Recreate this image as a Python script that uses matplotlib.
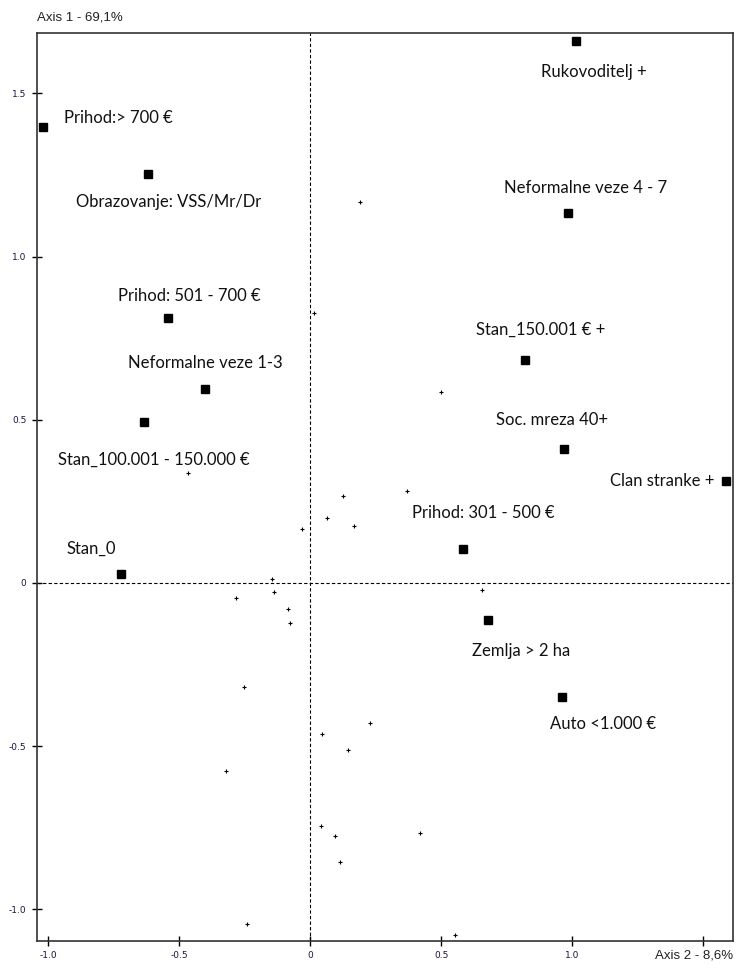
import numpy as np
import matplotlib.pyplot as plt

# labelled categories (axis 2 = x, axis 1 = y)
labels = ["Rukovoditelj +", "Prihod:> 700 €", "Obrazovanje: VSS/Mr/Dr",
          "Neformalne veze 4 - 7", "Prihod: 501 - 700 €", "Stan_150.001 € +",
          "Neformalne veze 1-3", "Soc. mreza 40+", "Stan_100.001 - 150.000 €",
          "Clan stranke +", "Prihod: 301 - 500 €", "Stan_0",
          "Zemlja > 2 ha", "Auto <1.000 €"]
lab_x = [1.015, -1.019, -0.618, 0.985, -0.542, 0.821, -0.401, 0.969, -0.634,
         1.588, 0.584, -0.721, 0.679, 0.962]
lab_y = [1.66, 1.397, 1.253, 1.133, 0.812, 0.683, 0.594, 0.41, 0.493,
         0.312, 0.104, 0.028, -0.113, -0.349]

# unlabelled categories
pt_x = [0.191, 0.015, 0.5, -0.466, 0.126, 0.37, 0.065, 0.168, -0.031, -0.145,
        -0.282, -0.137, -0.084, -0.076, 0.656, -0.252, 0.229, 0.047, 0.145,
        -0.32, 0.043, 0.095, 0.42, 0.115, -0.24, 0.553]
pt_y = [1.167, 0.827, 0.585, 0.337, 0.266, 0.282, 0.199, 0.175, 0.165, 0.012,
        -0.046, -0.028, -0.08, -0.123, -0.021, -0.318, -0.428, -0.463, -0.512,
        -0.575, -0.744, -0.775, -0.766, -0.855, -1.044, -1.078]

# label text offsets in pixels (dx, dy) relative to the square, left-aligned
offsets = [(-35, -31), (21, 9), (-72, -28), (-64, 25), (-50, 22), (-49, 30),
           (-77, 26), (-68, 29), (-86, -38), (-116, 0), (-51, 36), (-55, 25),
           (-16, -31), (-12, -27)]

fig = plt.figure(figsize=(7.38, 9.68), dpi=100)
ax = fig.add_axes([37/738, 27/968, 696/738, 908/968])

ax.axvline(0, color="k", ls=(0, (3, 2)), lw=0.8)
ax.axhline(0, color="k", ls=(0, (3, 2)), lw=0.8)

ax.plot(pt_x, pt_y, "+", color="k", ms=2.5, mew=0.8)
ax.plot(lab_x, lab_y, "s", color="k", ms=6)

for t, x, y, (dx, dy) in zip(labels, lab_x, lab_y, offsets):
    ax.annotate(t, (x, y), xytext=(dx * 0.72, dy * 0.72), textcoords="offset points",
                ha="left", va="center", fontsize=12, family=["Lato", "DejaVu Sans"],
                color="#111111")

ax.set_xlim(-1.042, 1.614)
ax.set_ylim(-1.097, 1.685)
ax.set_xticks([-1.0, -0.5, 0, 0.5, 1.0, 1.5])
ax.set_xticklabels(["-1.0", "-0.5", "0", "0.5", "1.0", ""])
ax.set_yticks([-1.0, -0.5, 0, 0.5, 1.0, 1.5])
ax.set_yticklabels(["-1.0", "-0.5", "0", "0.5", "1.0", "1.5"])
ax.tick_params(direction="inout", length=7, width=1, labelsize=6.5,
               labelcolor="#201040", pad=4)
for s in ax.spines.values():
    s.set_color("#333333")
    s.set_linewidth(1.2)

fam = ["Liberation Sans Narrow", "Liberation Sans", "DejaVu Sans"]
fig.text(37/738, 1 - 18/968, "Axis 1 - 69,1%", ha="left", va="center",
         fontsize=9.5, family=fam, color="#222222")
fig.text(733/738, 1 - 955/968, "Axis 2 - 8,6%", ha="right", va="center",
         fontsize=9.5, family=fam, color="#222222")

fig.savefig("out.png", dpi=100)
